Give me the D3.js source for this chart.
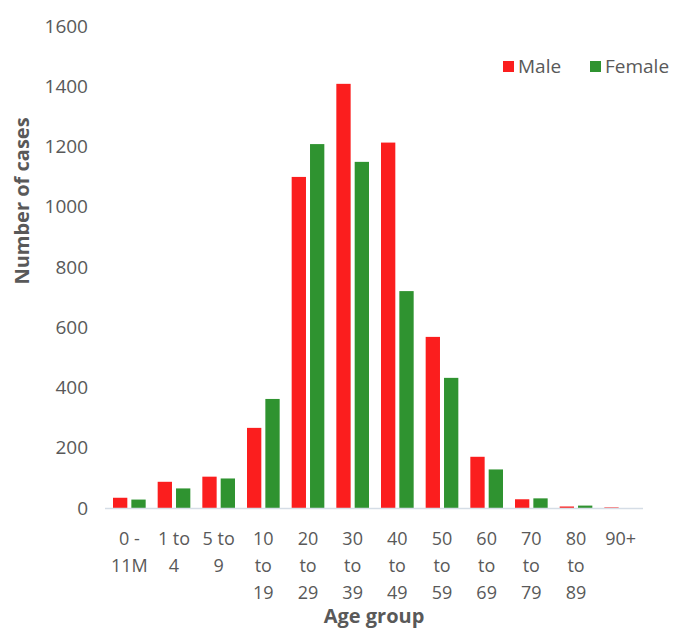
<!DOCTYPE html>
<html>
<head>
<meta charset="utf-8">
<script src="https://cdn.jsdelivr.net/npm/d3@7"></script>
<style>
  html, body { margin: 0; padding: 0; background: #fff; }
  svg { display: block; }
  text { font-family: "Open Sans", "Noto Sans", sans-serif; }
</style>
</head>
<body>
<svg id="chart" width="678" height="628"></svg>
<script>
const categories = ["0 - 11M", "1 to 4", "5 to 9", "10 to 19", "20 to 29", "30 to 39",
                    "40 to 49", "50 to 59", "60 to 69", "70 to 79", "80 to 89", "90+"];
const tickLabels = [["0 -", "11M"], ["1 to", "4"], ["5 to", "9"], ["10", "to", "19"],
                    ["20", "to", "29"], ["30", "to", "39"], ["40", "to", "49"], ["50", "to", "59"],
                    ["60", "to", "69"], ["70", "to", "79"], ["80", "to", "89"], ["90+"]];
const maleValues   = [34, 87, 104, 266, 1099, 1408, 1213, 568, 170, 29, 5, 2];
const femaleValues = [28, 65, 98, 362, 1208, 1149, 720, 432, 128, 32, 8, 0];
const seriesNames  = ["Male", "Female"];
const yTicks       = [0, 200, 400, 600, 800, 1000, 1200, 1400, 1600];

const colors = { Male: "#fb1e1e", Female: "#2f9330" };
const svg = d3.select("#chart");

const x0 = d3.scaleBand().domain(categories).range([107, 643]).paddingInner(0).paddingOuter(0);
const x1 = d3.scaleBand().domain(seriesNames).range([6, x0.bandwidth() - 6]).paddingInner(0.22).paddingOuter(0);
const y = d3.scaleLinear().domain([0, 1600]).range([508, 26]);

const rows = categories.map((c, i) => ({ cat: c, Male: maleValues[i], Female: femaleValues[i] }));

// bars
const g = svg.append("g");
g.selectAll("g.cat").data(rows).join("g")
  .attr("class", "cat")
  .attr("transform", d => `translate(${x0(d.cat)},0)`)
  .selectAll("rect").data(d => seriesNames.map(s => ({ s, v: d[s] }))).join("rect")
  .attr("x", d => x1(d.s))
  .attr("width", x1.bandwidth())
  .attr("y", d => y(d.v))
  .attr("height", d => y(0) - y(d.v))
  .attr("fill", d => colors[d.s]);

// x axis line
svg.append("line")
  .attr("x1", 105).attr("x2", 643)
  .attr("y1", y(0) + 0.5).attr("y2", y(0) + 0.5)
  .attr("stroke", "#d5dde6").attr("stroke-width", 1.5);

// y tick labels
const yAxis = d3.axisLeft(y).tickValues(yTicks).tickFormat(d3.format("d")).tickSize(0).tickPadding(0);
const yg = svg.append("g").attr("transform", "translate(88,0)").call(yAxis);
yg.select(".domain").remove();
yg.selectAll("text")
  .attr("font-family", "'Open Sans', sans-serif")
  .attr("font-size", 19).attr("fill", "#595959");

// x tick labels (multi-line)
const xl = svg.append("g");
categories.forEach((c, i) => {
  const cx = x0(c) + x0.bandwidth() / 2;
  const t = xl.append("text")
    .attr("x", cx)
    .attr("y", 545)
    .attr("text-anchor", "middle")
    .attr("font-size", 18).attr("fill", "#595959");
  tickLabels[i].forEach((line, j) => {
    t.append("tspan").attr("x", cx).attr("y", 545 + j * 27).text(line);
  });
});

// axis titles
svg.append("text")
  .attr("x", 374).attr("y", 623)
  .attr("text-anchor", "middle")
  .attr("font-size", 20).attr("font-weight", "bold").attr("fill", "#595959")
  .text("Age group");

svg.append("text")
  .attr("transform", "translate(29,201) rotate(-90)")
  .attr("text-anchor", "middle")
  .attr("font-size", 20).attr("font-weight", "bold").attr("fill", "#595959")
  .text("Number of cases");

// legend
const legend = svg.append("g");
const legendPos = [{ s: "Male", x: 503 }, { s: "Female", x: 590 }];
legendPos.forEach(p => {
  legend.append("rect").attr("x", p.x).attr("y", 61).attr("width", 11).attr("height", 11).attr("fill", colors[p.s]);
  legend.append("text").attr("x", p.x + 15).attr("y", 73)
    .attr("font-size", 19).attr("fill", "#595959").text(p.s);
});
</script>
</body>
</html>
